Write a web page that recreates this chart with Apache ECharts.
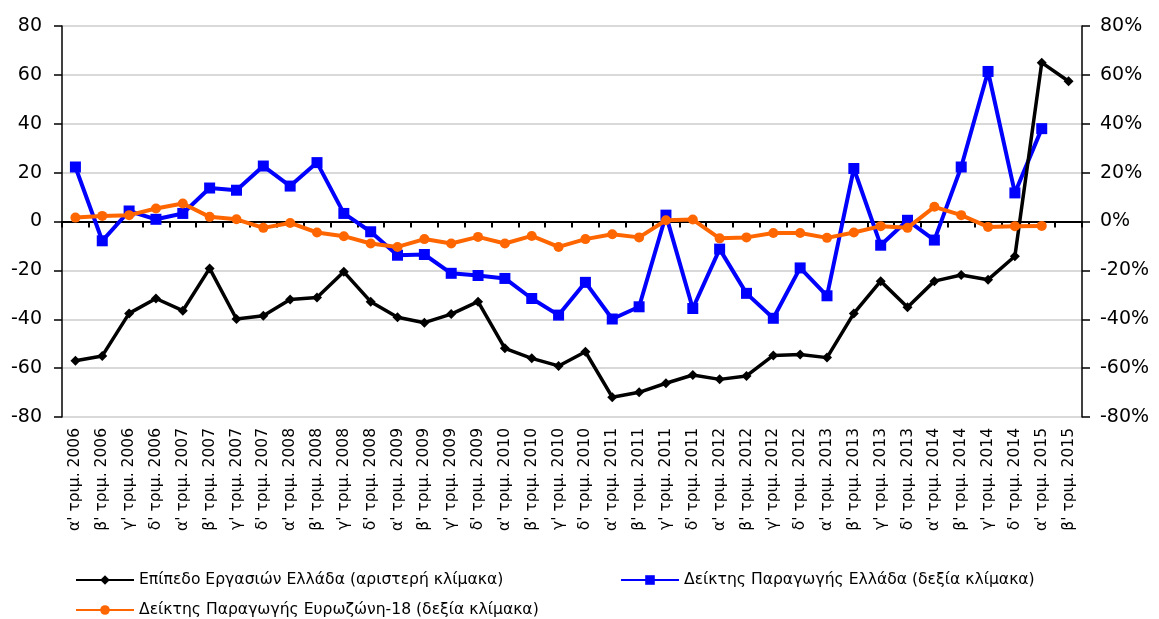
<!DOCTYPE html>
<html>
<head>
<meta charset="utf-8">
<script src="https://cdn.jsdelivr.net/npm/echarts@6/dist/echarts.min.js"></script>
<style>
  html, body { margin: 0; padding: 0; background: #fff; }
  #chart { width: 1159px; height: 619px; }
</style>
</head>
<body>
<div id="chart"></div>
<script>
// quarters 2006 Q1 .. 2015 Q2
const quarterNames = ["α'", "β'", "γ'", "δ'"];
const categories = [];
for (let y = 2006; y <= 2015; y++) {
  for (let q = 0; q < 4; q++) {
    if (y === 2015 && q > 1) break;
    categories.push(quarterNames[q] + ' τριμ. ' + y);
  }
}

// Επίπεδο Εργασιών Ελλάδα (left axis)
const businessLevel = [
  -57, -55, -37.6, -31.5, -36.5, -19.2, -39.9, -38.6, -31.9, -31.1,
  -20.6, -32.8, -39.2, -41.4, -37.9, -32.8, -51.9, -56, -59.1, -53.3,
  -71.9, -69.9, -66.2, -62.8, -64.6, -63.2, -54.8, -54.4, -55.7, -37.6,
  -24.4, -35.1, -24.4, -21.9, -23.8, -14.2, 65, 57.4
];

// Δείκτης Παραγωγής Ελλάδα (right axis, %)
const productionGreece = [
  22.3, -7.9, 4.3, 0.9, 3.3, 13.7, 12.8, 22.7, 14.5, 24.1,
  3.3, -4.2, -13.8, -13.5, -21.2, -22.1, -23.3, -31.5, -38.3, -24.9,
  -39.9, -34.9, 2.6, -35.6, -11.3, -29.4, -39.6, -19, -30.4, 21.7,
  -9.7, 0.5, -7.6, 22.3, 61.4, 11.7, 38, null
];

// Δείκτης Παραγωγής Ευρωζώνη-18 (right axis, %)
const productionEurozone = [
  1.6, 2.3, 2.6, 5.3, 7.4, 1.9, 0.9, -2.6, -0.6, -4.5,
  -6, -9, -10.4, -7.2, -9, -6.3, -9, -5.9, -10.4, -7.2,
  -5.2, -6.5, 0.5, 0.8, -6.9, -6.5, -4.7, -4.7, -6.7, -4.5,
  -1.9, -2.6, 6, 2.6, -2.2, -1.9, -1.8, null
];

const yTicks = { min: -80, max: 80, interval: 20 };

const chart = echarts.init(document.getElementById('chart'));

const legendText = { fontFamily: 'DejaVu Sans', fontSize: 15.6, color: '#000' };

chart.setOption({
  animation: false,
  textStyle: { fontFamily: 'DejaVu Sans' },
  grid: { left: 62, right: 77, top: 26, bottom: 202 },
  legend: [
    { data: ['Επίπεδο Εργασιών Ελλάδα (αριστερή κλίμακα)'], left: 70, top: 567,
      itemWidth: 58, itemHeight: 12, itemGap: 4, textStyle: legendText },
    { data: ['Δείκτης Παραγωγής Ελλάδα (δεξία κλίμακα)'], left: 615, top: 567,
      itemWidth: 58, itemHeight: 12, itemGap: 4, textStyle: legendText },
    { data: ['Δείκτης Παραγωγής Ευρωζώνη-18 (δεξία κλίμακα)'], left: 70, top: 597,
      itemWidth: 58, itemHeight: 12, itemGap: 4, textStyle: legendText }
  ],
  xAxis: [
    {
      type: 'category',
      data: categories,
      position: 'bottom',
      axisLine: { show: false, onZero: false },
      axisTick: { show: false },
      axisLabel: {
        interval: 0, rotate: 90, margin: 11,
        fontFamily: 'DejaVu Sans', fontSize: 15.5, color: '#000'
      }
    },
    {
      type: 'category',
      data: categories,
      position: 'bottom',
      axisLine: { show: true, onZero: true, lineStyle: { color: '#000', width: 2 } },
      axisTick: { show: true, interval: 0, length: 6, lineStyle: { color: '#000', width: 2 } },
      axisLabel: { show: false }
    }
  ],
  yAxis: [
    {
      type: 'value',
      min: yTicks.min, max: yTicks.max, interval: yTicks.interval,
      axisLine: { show: true, lineStyle: { color: '#000', width: 1.5 } },
      axisTick: { show: true, length: 8, lineStyle: { color: '#000', width: 1.5 } },
      axisLabel: { margin: 20, fontFamily: 'DejaVu Sans', fontSize: 19, color: '#000' },
      splitLine: { lineStyle: { color: '#d9d9d9', width: 2 } }
    },
    {
      type: 'value',
      position: 'right',
      min: yTicks.min, max: yTicks.max, interval: yTicks.interval,
      axisLine: { show: true, lineStyle: { color: '#000', width: 1.5 } },
      axisTick: { show: true, length: 8, lineStyle: { color: '#000', width: 1.5 } },
      axisLabel: { margin: 18, formatter: '{value}%', fontFamily: 'DejaVu Sans', fontSize: 19, color: '#000' },
      splitLine: { show: false }
    }
  ],
  series: [
    {
      name: 'Επίπεδο Εργασιών Ελλάδα (αριστερή κλίμακα)',
      type: 'line',
      yAxisIndex: 0,
      data: businessLevel,
      symbol: 'diamond', symbolSize: 10,
      itemStyle: { color: '#000' },
      lineStyle: { color: '#000', width: 3.5 },
      z: 4
    },
    {
      name: 'Δείκτης Παραγωγής Ελλάδα (δεξία κλίμακα)',
      type: 'line',
      yAxisIndex: 1,
      data: productionGreece,
      symbol: 'rect', symbolSize: 11,
      itemStyle: { color: '#0000ff' },
      lineStyle: { color: '#0000ff', width: 4 },
      z: 3
    },
    {
      name: 'Δείκτης Παραγωγής Ευρωζώνη-18 (δεξία κλίμακα)',
      type: 'line',
      yAxisIndex: 1,
      data: productionEurozone,
      symbol: 'circle', symbolSize: 10,
      itemStyle: { color: '#ff6600' },
      lineStyle: { color: '#ff6600', width: 4 },
      z: 5
    }
  ]
});
</script>
</body>
</html>
